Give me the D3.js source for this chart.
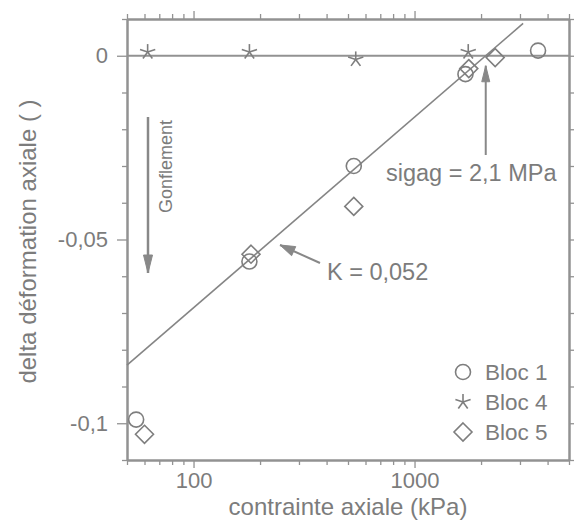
<!DOCTYPE html>
<html>
<head>
<meta charset="utf-8">
<script src="https://cdn.jsdelivr.net/npm/d3@7/dist/d3.min.js"></script>
<style>
  html, body { margin: 0; padding: 0; background: #ffffff; }
  svg { display: block; }
  text { font-family: "Liberation Sans", Arial, Helvetica, sans-serif; fill: #7c7c7c; }
</style>
</head>
<body>
<svg id="chart" width="574" height="527"></svg>
<script>
// ---- data ----
const bloc1 = [[55, -0.099], [179, -0.056], [531, -0.030], [1700, -0.005], [3622, 0.0014]];
const bloc4 = [[62, 0.001], [179, 0.001], [542, -0.001], [1750, 0.001]];
const bloc5 = [[60, -0.103], [182, -0.054], [531, -0.041], [1760, -0.0035], [2317, -0.0005]];
const fitLine = [[50, -0.0842], [3100, 0.0088]];
const sigag = 2100;
const xDomain = [50, 5000];
const yDomain = [-0.11, 0.01];
const xLabelTicks = [100, 1000];
const xTickLabels = ["100", "1000"];
const yMajorTicks = [0, -0.05, -0.1];
const yTickLabels = ["0", "-0,05", "-0,1"];
const yMinorTicks = [0.01, -0.01, -0.02, -0.03, -0.04, -0.06, -0.07, -0.08, -0.09, -0.11];
const legendNames = ["Bloc 1", "Bloc 4", "Bloc 5"];

const svg = d3.select("#chart");
const L = 127, R = 569, T = 19, B = 460;
const gray = "#929292";
const txt = "#7c7c7c";
const x = d3.scaleLog().domain(xDomain).range([L, R]);
const y = d3.scaleLinear().domain(yDomain).range([B, T]);

const xMinor = x.ticks().filter(v => !xLabelTicks.includes(v) && v >= xDomain[0] && v <= xDomain[1]);

function styleAxis(g) {
  g.selectAll("path").attr("stroke", gray).attr("stroke-width", 2);
  g.selectAll("line").attr("stroke", gray).attr("stroke-width", 1.3);
  g.selectAll("text").attr("fill", txt).style("font-size", "22px")
    .style("font-family", '"Liberation Sans", Arial, sans-serif');
}

// bottom
svg.append("g").attr("transform", `translate(0,${B})`)
  .call(d3.axisBottom(x).tickValues(xMinor).tickSizeInner(5).tickSizeOuter(0).tickFormat(""))
  .call(styleAxis);
svg.append("g").attr("transform", `translate(0,${B})`)
  .call(d3.axisBottom(x).tickValues(xLabelTicks).tickSizeInner(8).tickSizeOuter(0).tickPadding(4)
    .tickFormat((d, i) => xTickLabels[i]))
  .call(styleAxis);
// top
svg.append("g").attr("transform", `translate(0,${T})`)
  .call(d3.axisTop(x).tickValues(xMinor).tickSizeInner(5).tickSizeOuter(0).tickFormat(""))
  .call(styleAxis);
svg.append("g").attr("transform", `translate(0,${T})`)
  .call(d3.axisTop(x).tickValues(xLabelTicks).tickSizeInner(8).tickSizeOuter(0).tickFormat(""))
  .call(styleAxis);
// left
svg.append("g").attr("transform", `translate(${L},0)`)
  .call(d3.axisLeft(y).tickValues(yMinorTicks).tickSizeInner(5).tickSizeOuter(0).tickFormat(""))
  .call(styleAxis);
svg.append("g").attr("transform", `translate(${L},0)`)
  .call(d3.axisLeft(y).tickValues(yMajorTicks).tickSizeInner(10).tickSizeOuter(0).tickPadding(9)
    .tickFormat((d, i) => yTickLabels[i]))
  .call(styleAxis);
// right
svg.append("g").attr("transform", `translate(${R},0)`)
  .call(d3.axisRight(y).tickValues(yMinorTicks).tickSizeInner(5).tickSizeOuter(0).tickFormat(""))
  .call(styleAxis);
svg.append("g").attr("transform", `translate(${R},0)`)
  .call(d3.axisRight(y).tickValues(yMajorTicks).tickSizeInner(8).tickSizeOuter(0).tickFormat(""))
  .call(styleAxis);

// zero line
svg.append("line").attr("x1", L).attr("x2", R).attr("y1", y(0)).attr("y2", y(0))
  .attr("stroke", gray).attr("stroke-width", 2);

// fit line
svg.append("path").datum(fitLine)
  .attr("d", d3.line().x(d => x(d[0])).y(d => y(d[1])))
  .attr("fill", "none").attr("stroke", "#858585").attr("stroke-width", 1.6);

// markers
const mk = "#7e7e7e";
function circle(g, cx, cy) {
  g.append("circle").attr("cx", cx).attr("cy", cy).attr("r", 7.5)
    .attr("fill", "none").attr("stroke", mk).attr("stroke-width", 1.6);
}
function star(g, cx, cy) {
  const r = 8;
  const angs = [-90, -18, 54, 126, 198];
  angs.forEach(a => {
    const rad = a * Math.PI / 180;
    g.append("line").attr("x1", cx).attr("y1", cy)
      .attr("x2", cx + r * Math.cos(rad)).attr("y2", cy + r * Math.sin(rad))
      .attr("stroke", mk).attr("stroke-width", 1.6);
  });
}
function diamond(g, cx, cy) {
  const s = 9;
  g.append("path").attr("d", `M${cx},${cy - s}L${cx + s},${cy}L${cx},${cy + s}L${cx - s},${cy}Z`)
    .attr("fill", "none").attr("stroke", mk).attr("stroke-width", 1.6);
}
const pts = svg.append("g");
bloc1.forEach(d => circle(pts, x(d[0]), y(d[1])));
bloc4.forEach(d => star(pts, x(d[0]), y(d[1])));
bloc5.forEach(d => diamond(pts, x(d[0]), y(d[1])));

// arrows
function arrow(x1, y1, x2, y2, w, hl, hw) {
  svg.append("line").attr("x1", x1).attr("y1", y1).attr("x2", x2).attr("y2", y2)
    .attr("stroke", "#888888").attr("stroke-width", w);
  const a = Math.atan2(y2 - y1, x2 - x1);
  const bx = x2 - hl * Math.cos(a), by = y2 - hl * Math.sin(a);
  const px = -Math.sin(a) * hw, py = Math.cos(a) * hw;
  svg.append("path").attr("d", `M${x2},${y2}L${bx + px},${by + py}L${bx + px * 0.2},${by + py * 0.2}L${bx - px * 0.2},${by - py * 0.2}L${bx - px},${by - py}Z`)
    .attr("fill", "#888888").attr("stroke", "#888888").attr("stroke-width", 1);
}
// sigag arrow
arrow(x(sigag), 155, x(sigag), y(0) + 10, 2, 16, 4);
svg.append("text").attr("x", 386).attr("y", 181).style("font-size", "23.5px").text("sigag = 2,1 MPa");
// K arrow
arrow(320, 263, 280, 245, 2, 15, 5);
svg.append("text").attr("x", 327).attr("y", 280).style("font-size", "23.5px").text("K = 0,052");
// Gonflement arrow
arrow(148, 117, 148, 273, 2.5, 18, 4.5);
svg.append("text").attr("transform", "translate(172,213) rotate(-90)")
  .style("font-size", "18px").text("Gonflement");

// axis labels
svg.append("text").attr("x", (L + R) / 2).attr("y", 515).attr("text-anchor", "middle")
  .style("font-size", "24px").text("contrainte axiale (kPa)");
svg.append("text").attr("transform", `translate(36,${(T + B) / 2 + 2}) rotate(-90)`)
  .attr("text-anchor", "middle").style("font-size", "24px").text("delta déformation axiale ( )");

// legend
const lg = svg.append("g");
const legendFns = [circle, star, diamond];
legendNames.forEach((n, i) => {
  const cy = 372 + i * 30;
  legendFns[i](lg, 463, cy);
  lg.append("text").attr("x", 485).attr("y", cy + 8).style("font-size", "22.5px").text(n);
});
</script>
</body>
</html>
